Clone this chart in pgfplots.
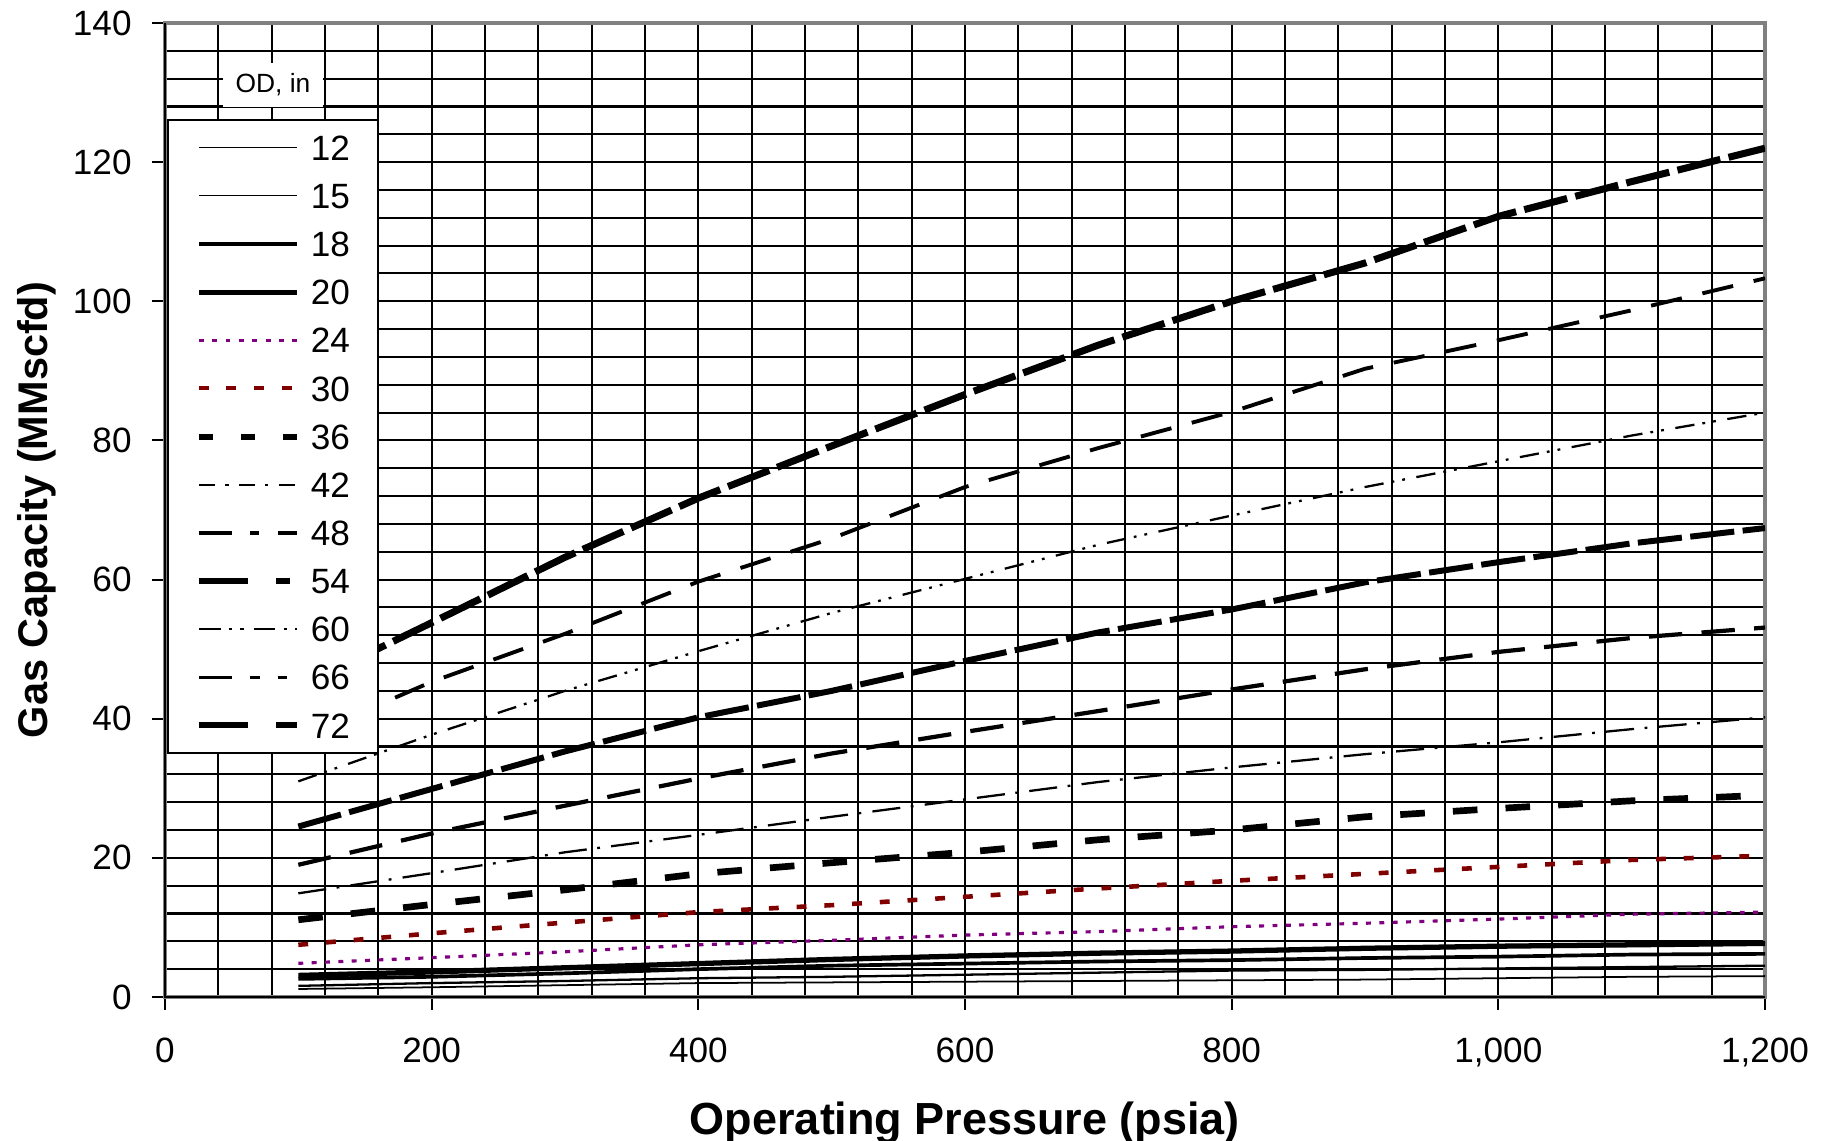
\documentclass[border=0pt]{standalone}
\usepackage{fontspec}
\setmainfont{Liberation Sans}
\usepackage{pgfplots}
\usepackage{pgfplotstable}
\pgfplotsset{compat=1.18}
\definecolor{odpurple}{RGB}{128,0,128}
\definecolor{odred}{RGB}{128,0,0}

% Gas capacity (MMscfd) by pipe OD (in), every 100 psia
\pgfplotstableread{
p    d12  d15 d18 d20 d24  d30  d36  d42  d48  d54  d60  d66   d72
100  1.15 1.6 2.6 3.1 4.84 7.5  11.1 14.9 19.0 24.5 31.0 37.0  44.5
200  1.4  2.0 2.9 3.6 5.65 9.15 13.3 17.8 23.5 29.9 37.7 45.3  53.8
300  1.7  2.3 3.4 4.2 6.5  10.7 15.4 20.8 27.5 35.3 44.0 52.2  63.2
400  2.0  2.7 4.0 4.8 7.5  12.2 17.7 23.3 31.4 40.2 49.7 59.7  71.7
500  2.1  2.9 4.5 5.4 8.15 13.2 19.3 25.9 35.0 44.0 55.2 65.9  79.2
600  2.2  3.2 4.8 5.9 8.9  14.4 20.8 28.4 38.1 48.3 60.1 73.3  86.6
700  2.3  3.5 5.1 6.3 9.4  15.6 22.6 30.9 41.1 52.4 65.0 78.9  93.7
800  2.4  3.8 5.3 6.6 10.1 16.7 24.0 33.0 44.2 55.7 69.2 84.1  100.0
900  2.5  3.9 5.6 7.0 10.6 17.7 25.9 34.9 47.1 59.6 73.3 90.3  105.5
1000 2.7  4.1 5.8 7.3 11.2 18.7 27.1 36.6 49.6 62.5 77.0 94.4  112.2
1100 2.9  4.3 6.1 7.5 11.9 19.7 28.2 38.5 51.6 65.2 80.7 98.7  117.2
1200 3.0  4.5 6.2 7.7 12.2 20.3 29.0 40.2 53.1 67.4 84.0 103.3 122.0
}\capacity

% legend samples follow the legend's own dash patterns
\pgfplotsset{
  lg12/.style={black, line width=0.35pt},
  lg15/.style={black, line width=0.4pt},
  lg18/.style={black, line width=0.9pt},
  lg20/.style={black, line width=1.4pt},
  lg24/.style={odpurple, line width=0.75pt, dash pattern=on 1.4pt off 2.4pt},
  lg30/.style={odred, line width=1.1pt, dash pattern=on 2.85pt off 5pt},
  lg36/.style={black, line width=1.7pt, dash pattern=on 4pt off 8pt},
  lg42/.style={black, line width=0.65pt, dash pattern=on 4.7pt off 2.8pt on 0.95pt off 2.9pt},
  lg48/.style={black, line width=1.1pt, dash pattern=on 9.5pt off 5.1pt on 2.65pt off 5.2pt},
  lg54/.style={black, line width=1.7pt, dash pattern=on 14pt off 8pt on 3.8pt off 8pt},
  lg60/.style={black, line width=0.65pt, dash pattern=on 6.2pt off 2.3pt on 1pt off 2.3pt on 1pt off 2.8pt},
  lg66/.style={black, line width=0.95pt, dash pattern=on 9.5pt off 5.1pt on 2.7pt off 5.1pt on 2.7pt off 5.1pt},
  lg72/.style={black, line width=1.7pt, dash pattern=on 14pt off 8pt on 7.4pt off 8pt},
}

\begin{document}
\begin{tikzpicture}
\useasboundingbox (-1.65cm,-1.44cm) rectangle (16.68cm,9.97cm);
\begin{axis}[
  at={(0,0)}, anchor=south west,
  scale only axis, width=16cm, height=9.74cm,
  xmin=0, xmax=1200, ymin=0, ymax=140,
  xtick={0,200,...,1200}, ytick={0,20,...,140},
  minor x tick num=4, minor y tick num=4,
  grid=both,
  major grid style={black, line width=0.6pt},
  minor grid style={black, line width=0.6pt},
  tick align=outside, xtick pos=bottom, ytick pos=left,
  major tick length=0.13cm, minor tick length=0pt,
  tick style={black, line width=0.6pt},
  axis line style={gray, line width=1.1pt},
  clip mode=individual,
  /pgf/number format/assume math mode=true,
  /pgf/number format/1000 sep={,},
  tick label style={font=\fontsize{10}{12}\selectfont},
  xticklabel style={yshift=-0.16cm},
  yticklabel style={xshift=-0.08cm},
  xlabel={Operating Pressure (psia)},
  ylabel={Gas Capacity (MMscfd)},
  every axis x label/.style={at={(rel axis cs:0.5,0)}, anchor=base, yshift=-1.38cm,
    font=\fontsize{12.8}{15}\selectfont\bfseries},
  every axis y label/.style={at={(rel axis cs:0,0.5)}, xshift=-1.17cm, rotate=90, anchor=base,
    font=\fontsize{11.8}{14}\selectfont\bfseries},
  legend style={at={(axis cs:1.5,126.2)}, anchor=north west, draw=black,
    line width=0.5pt, fill=white, inner xsep=0.28cm, inner ysep=4.3pt,
    row sep=6.5pt, column sep=0.11cm, font=\fontsize{10}{12}\selectfont,
    nodes={inner sep=0pt, text height=7.2pt, text depth=0pt}},
  legend cell align=left,
  legend image code/.code={\draw[#1] (0cm,0cm) -- (0.98cm,0cm);},
]
% plotted series (Excel restarts each dash at every point, so the plot
% dashes look more even than the legend samples)
\addplot[forget plot, black, line width=0.5pt] table[x=p, y=d12] {\capacity};
\addplot[forget plot, black, line width=0.65pt] table[x=p, y=d15] {\capacity};
\addplot[forget plot, black, line width=1.05pt] table[x=p, y=d18] {\capacity};
\addplot[forget plot, black, line width=1.5pt] table[x=p, y=d20] {\capacity};
\addplot[forget plot, odpurple, line width=0.9pt, dash pattern=on 1.4pt off 2.4pt] table[x=p, y=d24] {\capacity};
\addplot[forget plot, odred, line width=1.3pt, dash pattern=on 2.8pt off 5.1pt] table[x=p, y=d30] {\capacity};
\addplot[forget plot, black, line width=1.9pt, dash pattern=on 7pt off 8pt] table[x=p, y=d36] {\capacity};
\addplot[forget plot, black, line width=0.65pt, dash pattern=on 8pt off 3pt on 0.8pt off 3.2pt] table[x=p, y=d42] {\capacity};
\addplot[forget plot, black, line width=1.2pt, dash pattern=on 9.5pt off 5.5pt] table[x=p, y=d48] {\capacity};
\addplot[forget plot, black, line width=1.7pt, dash pattern=on 12.6pt off 2.4pt] table[x=p, y=d54] {\capacity};
\addplot[forget plot, black, line width=0.65pt, dash pattern=on 5.5pt off 2.3pt on 0.8pt off 2.3pt on 0.8pt off 3.3pt] table[x=p, y=d60] {\capacity};
\addplot[forget plot, black, line width=1.1pt, dash pattern=on 9pt off 6pt] table[x=p, y=d66] {\capacity};
\addplot[forget plot, black, line width=2pt, dash pattern=on 12.6pt off 2.4pt] table[x=p, y=d72] {\capacity};

\addlegendimage{lg12}\addlegendentry{12}
\addlegendimage{lg15}\addlegendentry{15}
\addlegendimage{lg18}\addlegendentry{18}
\addlegendimage{lg20}\addlegendentry{20}
\addlegendimage{lg24}\addlegendentry{24}
\addlegendimage{lg30}\addlegendentry{30}
\addlegendimage{lg36}\addlegendentry{36}
\addlegendimage{lg42}\addlegendentry{42}
\addlegendimage{lg48}\addlegendentry{48}
\addlegendimage{lg54}\addlegendentry{54}
\addlegendimage{lg60}\addlegendentry{60}
\addlegendimage{lg66}\addlegendentry{66}
\addlegendimage{lg72}\addlegendentry{72}

% legend heading and the black axis lines inside the grey plot border
\node[fill=white, inner sep=0pt, minimum width=1cm, minimum height=0.44cm,
  font=\fontsize{7.5}{9}\selectfont] at (axis cs:81,131.1) {OD, in};
\draw[black, line width=0.8pt] (rel axis cs:0,1) -- (rel axis cs:0,0) -- (rel axis cs:1,0);
\end{axis}
\end{tikzpicture}
\end{document}
